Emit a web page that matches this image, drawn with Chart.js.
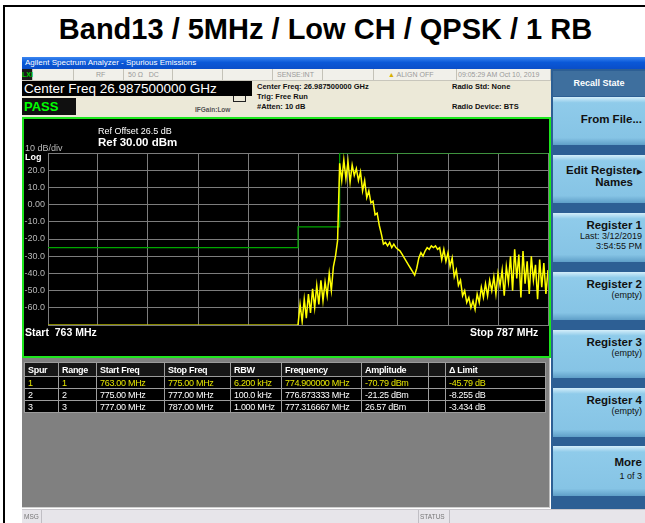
<!DOCTYPE html>
<html>
<head>
<meta charset="utf-8">
<script src="https://cdn.jsdelivr.net/npm/chart.js@4.4.0/dist/chart.umd.min.js"></script>
<style>
  html, body { margin: 0; padding: 0; }
  body { width: 645px; height: 523px; position: relative; overflow: hidden; background: #fff;
         font-family: "Liberation Sans", Arial, sans-serif; }
  .abs { position: absolute; white-space: nowrap; }
  #outer { left: 3px; top: 5px; width: 700px; height: 600px; border: 2px solid #000; }
  #title { left: 3px; top: 13px; width: 645px; text-align: center; font-size: 29px; font-weight: bold; color: #000; }
  #titlebar { left: 22px; top: 57px; width: 623px; height: 12px;
              background: linear-gradient(#3b86f0, #0a58d8 45%, #0a4ec8); }
  #titlebar span { position: absolute; left: 3px; top: 1px; font-size: 8px; color: #fff; }
  #statusrow { left: 22px; top: 69px; width: 529px; height: 11px; background: #f1f0ea; border-bottom: 1px solid #c8c6bc; }
  .cell { position: absolute; top: 0; height: 11px; border-right: 1px solid #c4c2b8; font-size: 7px; color: #9a9a9a;
          line-height: 11px; }
  #hdr { left: 22px; top: 81px; width: 529px; height: 36px; background: #ece9d8; }
  #cf { left: 22px; top: 81px; width: 230px; height: 15px; background: #000; color: #fff; font-size: 13.5px;
        line-height: 15px; padding-left: 2px; box-sizing: border-box; }
  #pass { left: 22px; top: 98px; width: 54px; height: 17px; background: #101010; color: #00ff00; font-weight: bold;
          font-size: 13px; line-height: 17px; padding-left: 2px; box-sizing: border-box; }
  .inf { font-size: 7.5px; font-weight: bold; color: #111; }
  #panel { left: 22px; top: 117px; width: 529px; height: 241px; background: #000; }
  #panelframe { left: 22px; top: 117px; width: 525px; height: 237px; border: 2px solid #1ee61e; }
  #chartcv { position: absolute; left: 24px; top: 119px; }
  .ptxt { color: #fff; font-size: 9px; }
  #lower { left: 22px; top: 358px; width: 527px; height: 149px; background: #808080; border-right: 1px solid #bdbdbd; border-bottom: 1px solid #d0d0d0; }
  #spurs { position: absolute; left: 24px; top: 362px; border-collapse: collapse; table-layout: fixed;
           background: #000; font-size: 9px; letter-spacing: -0.3px; }
  #spurs td { border: 1px solid #9c9c9c; padding: 0 0 0 3px; color: #fff; overflow: hidden; white-space: nowrap; }
  #spurs tr.h td { font-weight: bold; height: 13px; background: #161616; }
  #spurs tr.r td { height: 11px; }
  #spurs tr.y td { color: #e6e600; }
  #keys { left: 551px; top: 69px; width: 94px; height: 440px; background: #2d5f94; }
  #keyhead { left: 553px; top: 71px; width: 92px; height: 25px; background: #3e6f9e; color: #fff; font-size: 9px;
             font-weight: bold; text-align: center; line-height: 25px; }
  .key { position: absolute; left: 553px; width: 92px; text-align: right; color: #111;
         background: linear-gradient(#d4eefa, #8fcbea 12%, #86c4e5 85%, #5f9fc8); }
  .key b { display: block; font-size: 11.5px; padding-right: 3px; }
  .key i { display: block; font-style: normal; font-size: 9px; padding-right: 3px; }
  #statusbar { left: 22px; top: 509px; width: 623px; height: 14px; background: #e7e5ea; border-top: 1px solid #c9c7cc; }
  #statusbar span { position: absolute; top: 3px; font-size: 6.5px; color: #777; }
</style>
</head>
<body>
<div class="abs" id="outer"></div>
<div class="abs" id="title">Band13 / 5MHz / Low CH / QPSK / 1 RB</div>

<div class="abs" id="titlebar"><span>Agilent Spectrum Analyzer - Spurious Emissions</span></div>
<div class="abs" id="statusrow">
  <div class="cell" style="left:0;width:10px;background:#1a1a1a;color:#00d000;font-weight:bold;">LXI</div>
  <div class="cell" style="left:11px;width:40px;"></div>
  <div class="cell" style="left:52px;width:49px;"><span style="padding-left:22px">RF</span></div>
  <div class="cell" style="left:102px;width:48px;"><span style="padding-left:4px">50 Ω &nbsp;&nbsp;DC</span></div>
  <div class="cell" style="left:151px;width:49px;"></div>
  <div class="cell" style="left:201px;width:49px;"></div>
  <div class="cell" style="left:251px;width:49px;"><span style="padding-left:4px">SENSE:INT</span></div>
  <div class="cell" style="left:301px;width:50px;"></div>
  <div class="cell" style="left:352px;width:82px;"><span style="padding-left:14px"><span style="color:#d8b000">▲</span> ALIGN OFF</span></div>
  <div class="cell" style="left:435px;width:93px;"><span style="padding-left:1px">09:05:29 AM Oct 10, 2019</span></div>
</div>
<div class="abs" id="hdr"></div>
<div class="abs" id="cf">Center Freq 26.987500000 GHz</div>
<div class="abs" id="pass">PASS</div>
<div class="abs inf" style="left:257px;top:82px;">Center Freq: 26.987500000 GHz</div>
<div class="abs inf" style="left:257px;top:92px;">Trig: Free Run</div>
<div class="abs inf" style="left:257px;top:102px;">#Atten: 10 dB</div>
<div class="abs inf" style="left:452px;top:82px;">Radio Std: None</div>
<div class="abs inf" style="left:452px;top:102px;">Radio Device: BTS</div>
<div class="abs" style="left:195px;top:106px;font-size:6.5px;font-weight:bold;color:#555;">IFGain:Low</div>
<div class="abs" style="left:233px;top:96px;width:11px;height:5px;border:1px solid #222;border-top:none;"></div>

<div class="abs" id="panel"></div>
<canvas id="chartcv" width="526" height="238"></canvas>
<div class="abs" id="panelframe"></div>
<div class="abs ptxt" style="left:98px;top:126px;">Ref Offset 26.5 dB</div>
<div class="abs ptxt" style="left:98px;top:136px;font-size:11.5px;font-weight:bold;">Ref 30.00 dBm</div>
<div class="abs ptxt" style="left:25px;top:143px;color:#bbb;">10 dB/div</div>
<div class="abs ptxt" style="left:25px;top:152px;font-weight:bold;">Log</div>
<div class="abs ptxt" style="left:25px;top:326px;font-size:10.5px;font-weight:bold;">Start &nbsp;763 MHz</div>
<div class="abs ptxt" style="left:470px;top:326px;font-size:10.5px;font-weight:bold;">Stop 787 MHz</div>

<div class="abs" id="lower"></div>
<table id="spurs">
  <colgroup>
    <col style="width:34px"><col style="width:38px"><col style="width:68px"><col style="width:66px">
    <col style="width:51px"><col style="width:80px"><col style="width:67px"><col style="width:17px"><col style="width:100px">
  </colgroup>
  <tr class="h"><td>Spur</td><td>Range</td><td>Start Freq</td><td>Stop Freq</td><td>RBW</td><td>Frequency</td><td>Amplitude</td><td></td><td>Δ Limit</td></tr>
  <tr class="r y"><td>1</td><td>1</td><td>763.00 MHz</td><td>775.00 MHz</td><td>6.200 kHz</td><td>774.900000 MHz</td><td>-70.79 dBm</td><td></td><td>-45.79 dB</td></tr>
  <tr class="r"><td>2</td><td>2</td><td>775.00 MHz</td><td>777.00 MHz</td><td>100.0 kHz</td><td>776.873333 MHz</td><td>-21.25 dBm</td><td></td><td>-8.255 dB</td></tr>
  <tr class="r"><td>3</td><td>3</td><td>777.00 MHz</td><td>787.00 MHz</td><td>1.000 MHz</td><td>777.316667 MHz</td><td>26.57 dBm</td><td></td><td>-3.434 dB</td></tr>
</table>

<div class="abs" id="keys"></div>
<div class="abs" id="keyhead">Recall State</div>
<div class="key" style="top:97px;height:48px;"><b style="padding-top:16px">From File...</b></div>
<div class="key" style="top:155px;height:48px;"><b style="padding-top:9px">Edit Register<span style="font-size:7px">▶</span></b><b style="padding-right:12px">Names</b></div>
<div class="key" style="top:213px;height:49px;"><b style="padding-top:6px">Register 1</b><i>Last: 3/12/2019</i><i>3:54:55 PM</i></div>
<div class="key" style="top:272px;height:48px;"><b style="padding-top:6px">Register 2</b><i>(empty)</i></div>
<div class="key" style="top:330px;height:48px;"><b style="padding-top:6px">Register 3</b><i>(empty)</i></div>
<div class="key" style="top:388px;height:49px;"><b style="padding-top:6px">Register 4</b><i>(empty)</i></div>
<div class="key" style="top:446px;height:50px;"><b style="padding-top:10px">More</b><i style="padding-top:3px">1 of 3</i></div>

<div class="abs" id="statusbar">
  <span style="left:2px;">MSG</span>
  <div style="position:absolute;left:19px;top:0;width:1px;height:14px;background:#c0bec4;"></div>
  <div style="position:absolute;left:396px;top:0;width:1px;height:14px;background:#c0bec4;"></div>
  <span style="left:398px;">STATUS</span>
  <div style="position:absolute;left:427px;top:0;width:1px;height:14px;background:#c0bec4;"></div>
</div>

<script>
// axis ranges (MHz / dBm)
var xMin = 763, xMax = 787;
var yMin = -70, yMax = 30;
var xGridFreqs = [763, 765.4, 767.8, 770.2, 772.6, 775, 777.4, 779.8, 782.2, 784.6, 787];
var yTickValues = [-70, -60, -50, -40, -30, -20, -10, 0, 10, 20, 30];
var yTickLabels = ['', '-60.0', '-50.0', '-40.0', '-30.0', '-20.0', '-10.0', '0.00', '10.0', '20.0', ''];

// limit line, per range
var limitFreq = [763, 775, 775, 777, 777, 787];
var limitAmp = [-25, -25, -13, -13, 30, 30];

// range 1 trace sits below the display floor
var floorFreq = [763, 775];
var floorAmp = [-70, -70];

// swept trace 775.0 .. 787.0 MHz, 0.1 MHz per point
var traceStart = 775.0, traceStep = 0.1;
var traceAmp = [
  -70, -58, -68, -55, -66, -52, -63, -49, -60, -47,
  -58, -44, -56, -45, -53, -40, -50, -36, -30, -21,
   24,  14,  26,  15,  25,  13,  23,  17,  21,  14,
   19,   8,  14,   4,   8,   1,   2,  -6,  -5, -12,
  -17, -23, -22, -24, -22, -25, -23, -25, -26, -27,
  -29, -31, -33, -35, -37, -39, -41, -37, -31, -28,
  -30, -27, -25, -26, -24, -25, -24, -26, -25, -32,
  -26, -33, -28, -36, -31, -42, -38, -47, -44, -53,
  -50, -57, -54, -60, -56, -61, -52, -57, -48, -54,
  -46, -53, -44, -50, -42, -52, -40, -47, -38, -53,
  -36, -45, -30, -50, -26, -43, -29, -54, -27, -46,
  -33, -52, -30, -44, -35, -55, -32, -48, -34, -52,
  -38
];

function toPoints(xs, ys) {
    return ys.map(function(y, i) { return { x: xs[i], y: y }; });
}

var tracePoints = traceAmp.map(function(v, i) {
    return { x: traceStart + i * traceStep, y: v };
});

var gridColor = '#7c7c7c';

new Chart(document.getElementById('chartcv'), {
    type: 'line',
    data: {
        datasets: [
            {
                label: 'Trace',
                data: tracePoints,
                borderColor: '#ffff00',
                borderWidth: 1.5,
                pointRadius: 0,
                tension: 0
            },
            {
                label: 'Floor',
                data: toPoints(floorFreq, floorAmp),
                borderColor: '#b4b400',
                borderWidth: 1.5,
                pointRadius: 0
            },
            {
                label: 'Limit',
                data: toPoints(limitFreq, limitAmp),
                borderColor: '#00a800',
                borderWidth: 1.2,
                pointRadius: 0
            }
        ]
    },
    options: {
        responsive: false,
        animation: false,
        devicePixelRatio: 1,
        layout: { padding: { left: 0, top: 34, right: 2, bottom: 32 } },
        plugins: {
            legend: { display: false },
            tooltip: { enabled: false }
        },
        scales: {
            x: {
                type: 'linear',
                min: xMin,
                max: xMax,
                afterBuildTicks: function(s) { s.ticks = xGridFreqs.map(function(v) { return { value: v }; }); },
                afterFit: function(s) { s.height = 0; },
                ticks: { display: false },
                grid: { color: gridColor, drawTicks: false },
                border: { color: gridColor }
            },
            y: {
                type: 'linear',
                min: yMin,
                max: yMax,
                afterBuildTicks: function(s) { s.ticks = yTickValues.map(function(v) { return { value: v }; }); },
                afterFit: function(s) { s.width = 24; },
                ticks: {
                    autoSkip: false,
                    padding: 3,
                    color: '#b8b8b8',
                    font: { size: 9, family: '"Liberation Sans", Arial, sans-serif' },
                    callback: function(v, i) { return yTickLabels[i]; }
                },
                grid: { color: gridColor, drawTicks: false },
                border: { color: gridColor }
            }
        }
    }
});
</script>
</body>
</html>
